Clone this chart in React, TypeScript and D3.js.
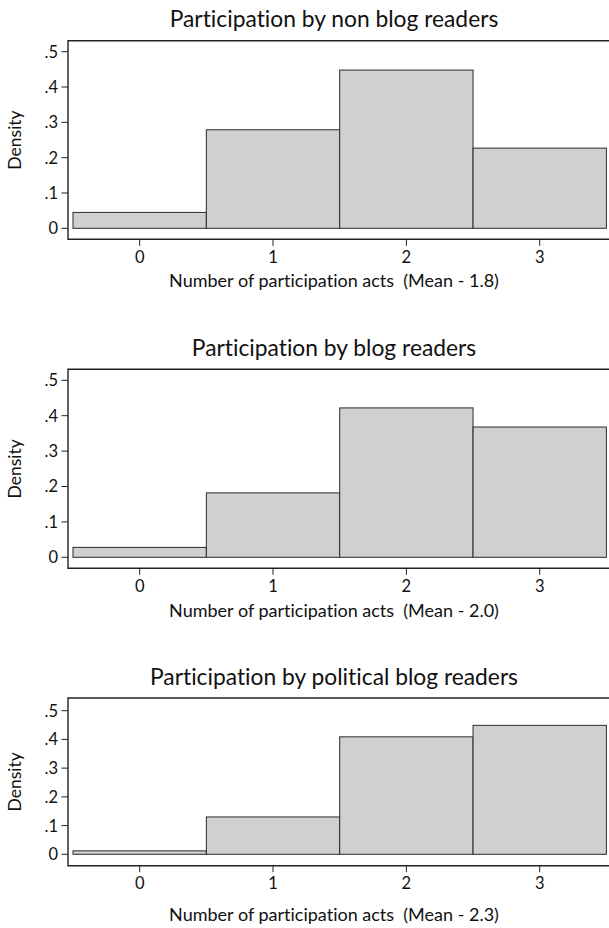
import React from "react";
import * as d3 from "d3";

const categories = [0, 1, 2, 3];
const nonBlogReaders = [0.045, 0.279, 0.448, 0.227];
const blogReaders = [0.028, 0.182, 0.422, 0.368];
const politicalBlogReaders = [0.012, 0.13, 0.409, 0.449];
const panelTitles = [
  "Participation by non blog readers",
  "Participation by blog readers",
  "Participation by political blog readers",
];
const panelMeans = ["1.8", "2.0", "2.3"];
const yTicks = [0, 0.1, 0.2, 0.3, 0.4, 0.5];
const yTickLabels = ["0", ".1", ".2", ".3", ".4", ".5"];
const xTickLabels = ["0", "1", "2", "3"];

const seriesList = [nonBlogReaders, blogReaders, politicalBlogReaders];

// layout per panel
const layouts = [
  { titleY: 26.7, boxTop: 40.7, axisY: 239.3, y0: 228.3, yTop: 51.7, tickY: 262.7, xTitleY: 287.3 },
  { titleY: 356, boxTop: 369.3, axisY: 568.3, y0: 557.3, yTop: 380.3, tickY: 591.7, xTitleY: 617.3 },
  { titleY: 684.7, boxTop: 698, axisY: 865.7, y0: 854.3, yTop: 710.7, tickY: 889, xTitleY: 921.3 },
];

const FONT = "Lato, 'Open Sans', sans-serif";
const BOX_LEFT = 68;
const BOX_RIGHT = 612;
const CENTER_X = 334;
const textStyle = { fontVariantLigatures: "none" as const, whiteSpace: "pre" as const };

const x = d3.scaleLinear().domain([-0.5, 3.5]).range([73.0, 606.4]);

function Panel({ idx }: { idx: number }) {
  const L = layouts[idx];
  const values = seriesList[idx];
  const y = d3.scaleLinear().domain([0, 0.5]).range([L.y0, L.yTop]);
  const boxMid = (L.boxTop + L.axisY) / 2;
  return (
    <g>
      <text x={CENTER_X} y={L.titleY} textAnchor="middle" fontFamily={FONT} fontSize={22.8} fill="#111" style={textStyle}>
        {panelTitles[idx]}
      </text>
      {/* plot box */}
      <path
        d={`M${BOX_RIGHT},${L.boxTop}H${BOX_LEFT}V${L.axisY}H${BOX_RIGHT}`}
        fill="none"
        stroke="#222"
        strokeWidth={1.4}
      />
      {/* bars */}
      {categories.map((c, i) => (
        <rect
          key={c}
          x={x(c - 0.5)}
          y={y(values[i])}
          width={x(c + 0.5) - x(c - 0.5)}
          height={y(0) - y(values[i])}
          fill="#d0d0d0"
          stroke="#2a2a2a"
          strokeWidth={1}
        />
      ))}
      {/* y axis ticks */}
      {yTicks.map((t, i) => (
        <g key={t}>
          <line x1={BOX_LEFT - 6.5} x2={BOX_LEFT} y1={y(t)} y2={y(t)} stroke="#222" strokeWidth={1} />
          <text
            x={BOX_LEFT - 10}
            y={y(t)}
            dy="0.36em"
            textAnchor="end"
            fontFamily={FONT}
            fontSize={16.5}
            fill="#111"
            style={textStyle}
          >
            {yTickLabels[i]}
          </text>
        </g>
      ))}
      <text
        transform={`translate(21,${boxMid}) rotate(-90)`}
        textAnchor="middle"
        fontFamily={FONT}
        fontSize={17.5}
        fill="#111"
        style={textStyle}
      >
        Density
      </text>
      {/* x axis ticks */}
      {categories.map((c, i) => (
        <g key={c}>
          <line x1={x(c)} x2={x(c)} y1={L.axisY} y2={L.axisY + 6.5} stroke="#222" strokeWidth={1} />
          <text x={x(c)} y={L.tickY} textAnchor="middle" fontFamily={FONT} fontSize={16.5} fill="#111" style={textStyle}>
            {xTickLabels[i]}
          </text>
        </g>
      ))}
      <text
        x={CENTER_X}
        y={L.xTitleY}
        textAnchor="middle"
        fontFamily={FONT}
        fontSize={18}
        fill="#111"
        style={textStyle}
      >
        {`Number of participation acts  (Mean - ${panelMeans[idx]})`}
      </text>
    </g>
  );
}

export default function App() {
  return (
    <svg
      width={609}
      height={928}
      style={{ position: "absolute", left: 0, top: 0, background: "#fff" }}
    >
      <rect x={0} y={0} width={609} height={928} fill="#fff" />
      {[0, 1, 2].map((i) => (
        <Panel key={i} idx={i} />
      ))}
    </svg>
  );
}
